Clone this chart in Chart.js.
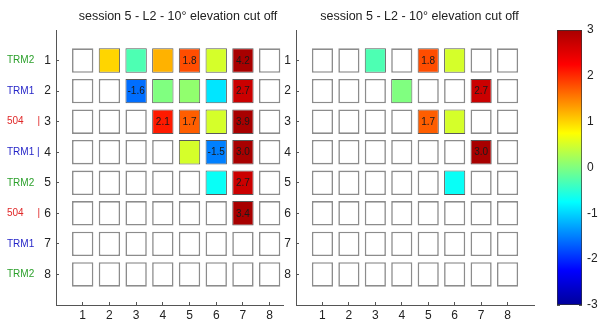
<!DOCTYPE html>
<html>
<head>
<meta charset="utf-8">
<script src="https://cdn.jsdelivr.net/npm/chart.js@4/dist/chart.umd.min.js"></script>
<style>
  html, body { margin: 0; padding: 0; background: #fff; overflow: hidden; }
  #wrap { position: relative; width: 600px; height: 325px; }
  canvas { position: absolute; top: 0; }
</style>
</head>
<body>
<div id="wrap">
  <canvas id="left" width="349" height="325" style="left:0px"></canvas>
  <canvas id="right" width="299" height="325" style="left:270px"></canvas>
  <canvas id="cbar" width="60" height="325" style="left:540px"></canvas>
</div>
<script>
// données
const rows = [1, 2, 3, 4, 5, 6, 7, 8];
const cols = [1, 2, 3, 4, 5, 6, 7, 8];
const rowLabels = ['TRM2', 'TRM1', '504     |', 'TRM1 |', 'TRM2', '504     |', 'TRM1', 'TRM2'];
const rowGroups = ['TRM2', 'TRM1', '504', 'TRM1', 'TRM2', '504', 'TRM1', 'TRM2'];
const colorTicks = [-3, -2, -1, 0, 1, 2, 3];
const titleText = 'session 5 - L2 - 10° elevation cut off';

const leftValues = [
    [null, 1.0, -0.3, 1.2, 1.8, 0.5, 4.2, null],
    [null, null, -1.6, 0.0, 0.1, -0.9, 2.7, null],
    [null, null, null, 2.1, 1.7, 0.5, 3.9, null],
    [null, null, null, null, 0.5, -1.5, 3.0, null],
    [null, null, null, null, null, -0.7, 2.7, null],
    [null, null, null, null, null, null, 3.4, null],
    [null, null, null, null, null, null, null, null],
    [null, null, null, null, null, null, null, null]
];
const rightValues = [
    [null, null, -0.3, null, 1.8, 0.5, null, null],
    [null, null, null, 0.0, null, null, 2.7, null],
    [null, null, null, null, 1.7, 0.5, null, null],
    [null, null, null, null, null, null, 3.0, null],
    [null, null, null, null, null, -0.7, null, null],
    [null, null, null, null, null, null, null, null],
    [null, null, null, null, null, null, null, null],
    [null, null, null, null, null, null, null, null]
];

const cmin = -3, cmax = 3;
const LABEL_MIN = 1.5;   // valeurs affichées dans la case
const HALF = 0.4;        // demi-largeur d'une case (unités d'axe)
const FONT = '"Liberation Sans", Arial, sans-serif';
const groupColors = { TRM2: '#2ca02c', TRM1: '#2626c8', '504': '#e02828' };
const axisColor = '#555';

Chart.defaults.font.family = FONT;
Chart.defaults.color = '#222';

// palette type jet
const jetStops = [
    [0, [0, 0, 0.6]],
    [0.125, [0, 0, 1]],
    [0.375, [0, 1, 1]],
    [0.625, [1, 1, 0]],
    [0.875, [1, 0, 0]],
    [1, [0.66, 0, 0]]
];
function jet(v) {
    const t = Math.min(1, Math.max(0, (v - cmin) / (cmax - cmin)));
    let k = 1;
    while (k < jetStops.length - 1 && t > jetStops[k][0]) k++;
    const [t0, c0] = jetStops[k - 1];
    const [t1, c1] = jetStops[k];
    const f = (t - t0) / (t1 - t0);
    const c = c0.map((a, i) => Math.round(255 * (a + (c1[i] - a) * f)));
    return 'rgb(' + c.join(',') + ')';
}

const inwardGrid = { display: true, offset: false, drawOnChartArea: false, drawTicks: true, tickLength: -3, color: axisColor };
const axisBorder = { display: true, color: axisColor, width: 1 };
const hiddenAxis = { grid: { display: false }, border: { display: false }, ticks: { display: false } };

// texte dans les cases
const cellText = {
    id: 'cellText',
    afterDatasetsDraw(chart) {
        const ctx = chart.ctx;
        ctx.save();
        ctx.font = '10px ' + FONT;
        ctx.fillStyle = '#1a1a1a';
        ctx.textAlign = 'center';
        ctx.textBaseline = 'middle';
        chart.data.datasets.forEach((ds, d) => {
            chart.getDatasetMeta(d).data.forEach((el, i) => {
                const v = ds.data[i].v;
                if (v === null || Math.abs(v) < LABEL_MIN) return;
                const p = el.getCenterPoint();
                ctx.fillText(v.toFixed(1), p.x, p.y + 0.5);
            });
        });
        ctx.restore();
    }
};

function panel(id, values, xMax, withNames, padRight) {
    const datasets = cols.map((c, j) => ({
        data: rows.map((r, i) => ({ y: r, x: [c - HALF, c + HALF], v: values[i][j] })),
        backgroundColor: ctx => (ctx.raw && ctx.raw.v !== null) ? jet(ctx.raw.v) : '#ffffff',
        borderColor: ctx => (ctx.raw && ctx.raw.v !== null) ? '#5a5a5a' : '#8c8c8c',
        borderWidth: ctx => (ctx.raw && ctx.raw.v !== null) ? 1 : 1.6,
        borderSkipped: false,
        grouped: false,
        barPercentage: 0.8,
        categoryPercentage: 1
    }));

    const scales = {
        x: {
            type: 'linear', min: 0, max: xMax,
            afterBuildTicks: s => { s.ticks = cols.map(v => ({ value: v })); },
            afterFit: s => { s.height = 20; },
            grid: inwardGrid, border: axisBorder,
            ticks: { font: { size: 12 }, padding: 6, color: '#222' }
        },
        y: {
            type: 'linear', position: 'left', weight: 1, reverse: true, min: 0, max: 9, offset: false,
            afterBuildTicks: s => { s.ticks = rows.map(v => ({ value: v })); },
            afterFit: s => { s.width = withNames ? 16 : 26; },
            grid: inwardGrid, border: axisBorder,
            ticks: { font: { size: 12 }, padding: 8, color: '#222' }
        }
    };
    if (withNames) {
        scales.names = {
            type: 'linear', position: 'left', weight: 2, reverse: true, min: 0, max: 9, offset: false,
            afterBuildTicks: s => { s.ticks = rows.map(v => ({ value: v })); },
            afterFit: s => { s.width = 33; },
            grid: { display: false, offset: false }, border: { display: false },
            ticks: {
                font: { size: 10 }, padding: 0, crossAlign: 'far',
                callback: v => rowLabels[rows.indexOf(v)],
                color: ctx => groupColors[rowGroups[ctx.index]]
            }
        };
    }
    scales.pad = Object.assign({
        type: 'linear', position: 'right', min: 0, max: 1, offset: false,
        afterFit: s => { s.width = padRight; }
    }, hiddenAxis);

    return new Chart(document.getElementById(id), {
        type: 'bar',
        data: { datasets },
        options: {
            indexAxis: 'y',
            responsive: false,
            animation: false,
            devicePixelRatio: 1,
            layout: { padding: { left: withNames ? 7 : 0, right: 0, top: 0, bottom: 0 } },
            scales,
            plugins: {
                legend: { display: false },
                tooltip: { enabled: false },
                title: {
                    display: true, text: titleText, color: '#222',
                    font: { size: 12.5, weight: 'normal' },
                    padding: { top: 9, bottom: 6 }
                }
            }
        },
        plugins: [cellText]
    });
}

panel('left', leftValues, 8.5, true, 66);
panel('right', rightValues, 9, false, 35);

// barre de couleurs
function jetGradient(ctx) {
    const chart = ctx.chart;
    if (!chart.chartArea) return '#ffffff';
    const y = chart.scales.y;
    const g = chart.ctx.createLinearGradient(0, y.getPixelForValue(cmin), 0, y.getPixelForValue(cmax));
    for (let k = 0; k <= 64; k++) {
        g.addColorStop(k / 64, jet(cmin + (cmax - cmin) * k / 64));
    }
    return g;
}

new Chart(document.getElementById('cbar'), {
    type: 'bar',
    data: {
        labels: ['cb'],
        datasets: [{
            data: [[cmin, cmax]],
            backgroundColor: jetGradient,
            borderColor: '#333',
            borderWidth: 1,
            borderSkipped: false,
            barPercentage: 1,
            categoryPercentage: 1
        }]
    },
    options: {
        responsive: false,
        animation: false,
        devicePixelRatio: 1,
        layout: { padding: { top: 30, bottom: 20, left: 0, right: 0 } },
        scales: {
            x: { display: false },
            y: {
                type: 'linear', position: 'right', min: cmin, max: cmax,
                afterBuildTicks: s => { s.ticks = colorTicks.map(v => ({ value: v })); },
                afterFit: s => { s.width = 18; },
                grid: inwardGrid, border: { display: false },
                ticks: { font: { size: 12 }, padding: 8, color: '#222' }
            },
            yl: {
                type: 'linear', position: 'left', min: cmin, max: cmax,
                afterBuildTicks: s => { s.ticks = colorTicks.map(v => ({ value: v })); },
                afterFit: s => { s.width = 17; },
                grid: inwardGrid, border: { display: false },
                ticks: { display: false }
            }
        },
        plugins: { legend: { display: false }, tooltip: { enabled: false } }
    }
});
</script>
</body>
</html>
